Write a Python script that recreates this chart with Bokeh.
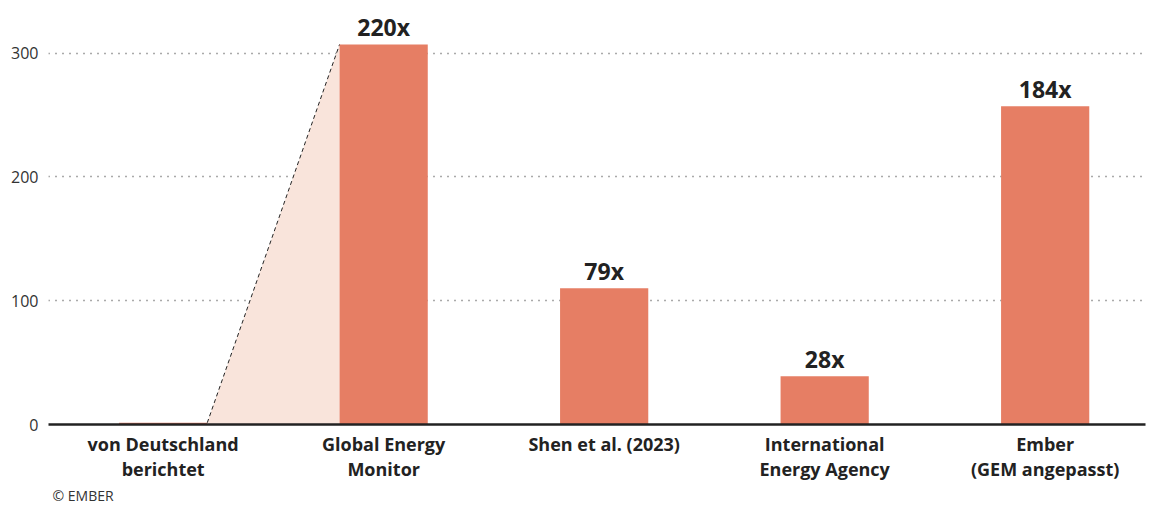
from bokeh.plotting import figure
from bokeh.models import Range1d, FixedTicker, ColumnDataSource, Title
from bokeh.core.properties import value
from bokeh.embed import file_html
from bokeh.resources import INLINE

categories = ["von Deutschland\nberichtet", "Global Energy\nMonitor", "Shen et al. (2023)",
              "International\nEnergy Agency", "Ember\n(GEM angepasst)"]
values = [1.4, 307, 110, 39, 257]
ratio_labels = ["", "220x", "79x", "28x", "184x"]
y_ticks = [0, 100, 200, 300]

BAR = "#e67e64"
LIGHT = "#f9e4db"
FONT = "Open Sans"

xs = list(range(len(categories)))
bar_w = 0.4

p = figure(frame_width=1097, height=504, output_backend="svg", toolbar_location=None,
           x_range=Range1d(-0.52, 4.455), y_range=Range1d(0, 336),
           min_border_left=48, min_border_right=2, min_border_top=8, min_border_bottom=0)
p.outline_line_color = None
p.background_fill_color = "white"

# shaded connector between first two bars
x0r = xs[0] + bar_w / 2
x1l = xs[1] - bar_w / 2
p.patch([x0r, x1l, x1l, x0r], [values[0], values[1], 0, 0], fill_color=LIGHT, line_color=None)
p.line([x0r, x1l], [values[0], values[1]], line_color="#222222", line_width=1, line_dash="4 3")

src = ColumnDataSource(dict(x=xs, top=values, lab=ratio_labels))
p.vbar(x="x", top="top", width=bar_w, source=src, fill_color=BAR, line_color=None)
p.text(x="x", y="top", text="lab", source=src, text_align="center", text_baseline="alphabetic",
       y_offset=-17, text_font=value(FONT), text_font_style="bold", text_font_size="23px",
       text_color="#222222")

# grid
p.xgrid.grid_line_color = None
p.ygrid.ticker = FixedTicker(ticks=[t for t in y_ticks if t > 0])
p.ygrid.grid_line_color = "#555555"
p.ygrid.grid_line_dash = "1 6"
p.ygrid.grid_line_width = 1.3

# y axis
p.yaxis.ticker = FixedTicker(ticks=y_ticks)
p.yaxis.axis_line_color = None
p.yaxis.major_tick_line_color = None
p.yaxis.minor_tick_line_color = None
p.yaxis.major_tick_out = 0
p.yaxis.minor_tick_out = 0
p.yaxis.major_label_standoff = 10
p.yaxis.major_label_text_font = FONT
p.yaxis.major_label_text_font_size = "16px"
p.yaxis.major_label_text_color = "#333333"

# x axis
p.xaxis.ticker = FixedTicker(ticks=xs)
p.xaxis.major_label_overrides = {i: c for i, c in enumerate(categories)}
p.xaxis.axis_line_color = "#222222"
p.xaxis.axis_line_width = 2.5
p.xaxis.major_tick_line_color = None
p.xaxis.minor_tick_line_color = None
p.xaxis.major_tick_out = 0
p.xaxis.minor_tick_out = 0
p.xaxis.major_label_standoff = 7
p.xaxis.major_label_text_font = FONT
p.xaxis.major_label_text_font_style = "bold"
p.xaxis.major_label_text_font_size = "18px"
p.xaxis.major_label_text_color = "#222222"
p.xaxis.major_label_text_line_height = 1.05

credit = Title(text="© EMBER", align="left", text_font=FONT, text_font_style="normal",
               text_font_size="14px", text_color="#333333", offset=4, standoff=0,
               text_line_height=1.0)
p.add_layout(credit, "below")

open("out.html", "w").write(file_html(p, INLINE))
